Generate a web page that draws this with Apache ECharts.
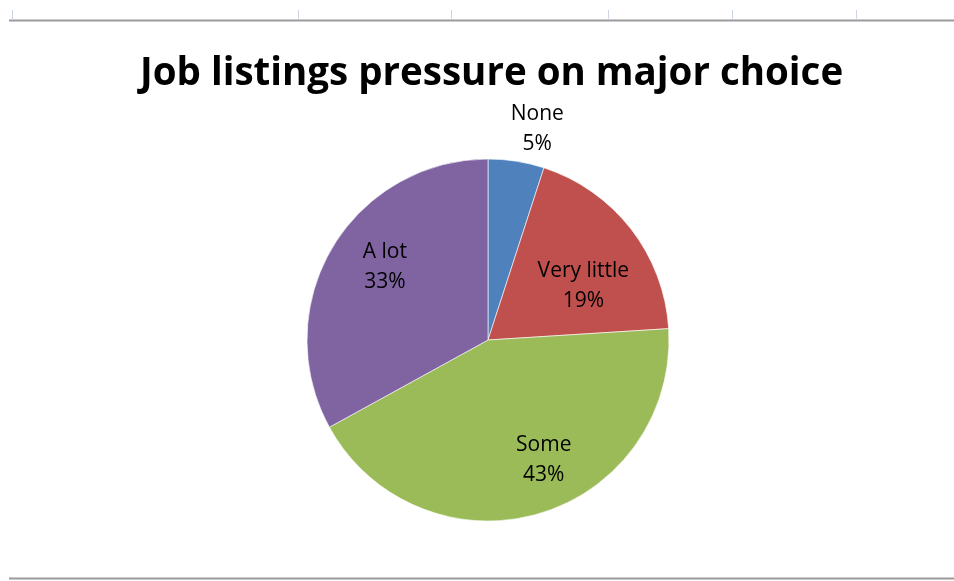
<!DOCTYPE html>
<html lang="en">
<head>
	<meta charset="UTF-8">
	<title>Job listings pressure on major choice</title>
	<script src="https://cdn.jsdelivr.net/npm/echarts@6/dist/echarts.min.js"></script>
	<style>
		html, body { margin: 0; padding: 0; background: #fff; }
		.box { width: 954px; height: 581px; }
	</style>
</head>
<body>
	<div class="box" id="main"></div>

	<script>
		// data
		let categories = ['None', 'Very little', 'Some', 'A lot'];
		let shares = [5, 19, 43, 33];
		let colors = ['#4F81BD', '#C0504D', '#9BBB59', '#8064A2'];

		let chart = echarts.init(document.getElementById('main'));
		let font = '"Open Sans", "Liberation Sans", sans-serif';

		// spreadsheet border lines behind the chart
		let colTicks = [12, 298, 451, 608, 732, 856];
		let sheetLines = [
			{ type: 'line', shape: { x1: 9, y1: 20.5, x2: 954, y2: 20.5 }, style: { stroke: '#9a9a9a', lineWidth: 2 } },
			{ type: 'line', shape: { x1: 9, y1: 578.5, x2: 954, y2: 578.5 }, style: { stroke: '#9a9a9a', lineWidth: 2 } }
		].concat(colTicks.map(x => ({
			type: 'line', shape: { x1: x + 0.5, y1: 10, x2: x + 0.5, y2: 20 }, style: { stroke: '#cdd4e4', lineWidth: 1 }
		})));

		let labelStyle = {
			formatter: '{b}\n{c}%',
			color: '#000',
			fontFamily: font,
			fontSize: 21,
			lineHeight: 30
		};

		// small nudges so the labels sit where Excel put them
		function nudge(p) {
			if (p.seriesIndex === 0) return { align: 'center', dx: 15, dy: -26 };
			switch (categories[p.dataIndex]) {
				case 'Very little': return { dx: -3, dy: 22 };
				case 'A lot': return { dx: 4, dy: -10 };
				case 'Some': return { dx: 21, dy: 0 };
			}
		}

		let options = {
			animation: false,
			color: colors,
			graphic: sheetLines,
			title: {
				text: 'Job listings pressure on major choice',
				left: 135,
				top: 50,
				textStyle: { fontFamily: font, fontWeight: 'bold', fontSize: 38.5, color: '#000' }
			},
			series: [{
				name: 'slices',
				type: 'pie',
				center: [488, 340],
				radius: 181,
				startAngle: 90,
				clockwise: true,
				silent: true,
				itemStyle: { borderColor: '#fff', borderWidth: 0.6 },
				labelLine: { show: false, length: 6, length2: 0 },
				labelLayout: nudge,
				data: categories.map((name, i) => ({
					name: name,
					value: shares[i],
					label: i === 0
						? Object.assign({ show: true, position: 'outside' }, labelStyle)
						: { show: false }
				}))
			}, {
				// transparent ring only used to place the inner labels further out
				name: 'labels',
				type: 'pie',
				center: [488, 340],
				radius: [62, 181],
				startAngle: 90,
				clockwise: true,
				silent: true,
				itemStyle: { color: 'rgba(0,0,0,0)' },
				labelLine: { show: false },
				labelLayout: nudge,
				data: categories.map((name, i) => ({
					name: name,
					value: shares[i],
					label: i === 0
						? { show: false }
						: Object.assign({ show: true, position: 'inside' }, labelStyle)
				}))
			}]
		};
		chart.setOption(options);
	</script>
</body>
</html>
